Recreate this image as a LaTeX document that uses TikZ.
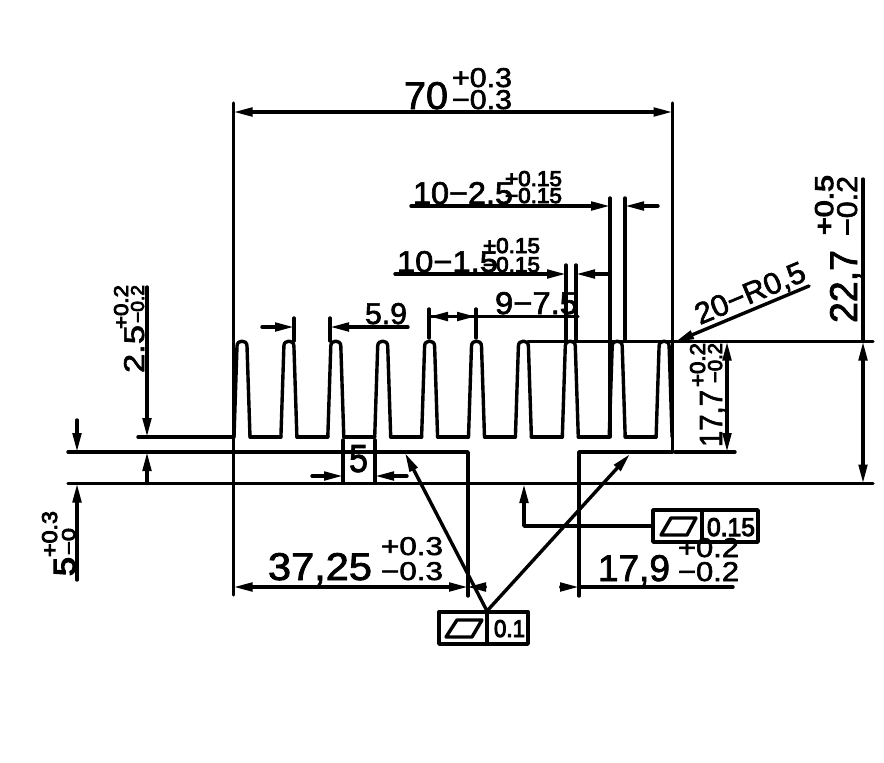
\documentclass[tikz,border=0pt]{standalone}
\usepackage{fontspec}
\usepackage{graphicx}
\setmainfont{Liberation Sans}
\newfontfamily\cadreg{Liberation Sans}[FakeBold=2]
\newfontfamily\cadbold{Liberation Sans}[FakeBold=4]
\usetikzlibrary{arrows.meta}
\tikzset{
  cad/.style={line width=3.4pt,line cap=round,line join=round},
  tip/.style={-{Triangle[length=19pt,width=8.5pt]}},
  lbl/.style={inner sep=0pt,outer sep=0pt,anchor=base west,text=black}
}
% \lbl{rotation}{name}{position}{width}{height}{text}
\newcommand\lbl[6]{\node[lbl,rotate=#1] (#2) at (#3) {\resizebox{#4pt}{#5pt}{\fontsize{30pt}{30pt}\selectfont\cadreg #6}};}
\newcommand\lbb[6]{\node[lbl,rotate=#1] (#2) at (#3) {\resizebox{#4pt}{#5pt}{\fontsize{30pt}{30pt}\selectfont\cadbold #6}};}
\begin{document}
\begin{tikzpicture}[x=1pt,y=-1pt]
\useasboundingbox (0,0) rectangle (884,763);
\begin{scope}[cad]
% fins
\foreach \i in {0,...,9}{
  \pgfmathsetmacro\c{242+46.9*\i}
  \draw (\c-8,437) -- (\c-5,346) .. controls (\c-5,339.5) and (\c+5,339.5) .. (\c+5,346) -- (\c+8,437);
}
\foreach \i in {0,...,8}{
  \pgfmathsetmacro\c{242+46.9*\i}
  \draw (\c+8,437) -- (\c+38.9,437);
}
\draw (138,437) -- (234,437);
% body
\draw (68,452) -- (468,452) -- (468,596);
\draw (579,596) -- (579,452) -- (672.5,452);
\draw (68,483.5) -- (873,483.5);
\draw (528,341.5) -- (873,341.5);
\draw (675,452) -- (735,452);
% extension lines
\draw (233.5,103) -- (233.5,595);
\draw (672.5,103) -- (672.5,452);
\draw (610,198) -- (610,437);
\draw (625,198) -- (625,341);
\draw (566,265) -- (566,341);
\draw (576,265) -- (576,341);
\draw (429,309) -- (429,338);
\draw (476,309) -- (476,338);
\draw (294,318) -- (294,341);
\draw (330,318) -- (330,341);
\draw (343,440) -- (343,483);
\draw (375,440) -- (375,483);
% dimension lines
\draw[tip] (450,112) -- (233.5,112);
\draw[tip] (450,112) -- (672.5,112);
\draw[tip] (411,206) -- (610,206);
\draw[tip] (658,206) -- (625,206);
\draw[tip] (395,274) -- (566,274);
\draw[tip] (609,274) -- (576,274);
\draw[tip] (578,316.5) -- (429,316.5);
\draw[tip] (429,316.5) -- (476,316.5);
\draw[tip] (262,327) -- (294,327);
\draw[tip] (408,327) -- (330,327);
\draw[tip] (312,476) -- (343,476);
\draw[tip] (407,476) -- (375,476);
\draw (863,179) -- (863,341.5);
\draw[tip] (863,400) -- (863,341.5);
\draw[tip] (863,400) -- (863,483.5);
\draw[tip] (727,400) -- (727,341.5);
\draw[tip] (727,400) -- (727,452);
\draw[tip] (147,287) -- (147,437);
\draw[tip] (147,483.5) -- (147,452);
\draw[tip] (77,420) -- (77,452);
\draw[tip] (77,580) -- (77,483.5);
\draw[tip] (350,587) -- (233.5,587);
\draw[tip] (350,587) -- (468,587);
\draw[tip] (485,587) -- (467,587);
\draw[tip] (562,587) -- (579,587);
\draw (579,587) -- (733,587);
% leaders
\draw[tip] (809,286) -- (675,342);
\coordinate (hub) at (487,611);
\draw[tip] (hub) -- (405,453);
\draw[tip] (hub) -- (630,454);
% tolerance frames
\draw (439,612) rectangle (528,644);
\draw (487,612) -- (487,644);
\draw (446,637) -- (472,637) -- (482,620) -- (457,620) -- cycle;
\draw (653,510) rectangle (758,542);
\draw (702,510) -- (702,542);
\draw (661,535) -- (687,535) -- (696,518) -- (671,518) -- cycle;
\draw[tip] (653,526) -- (524,526) -- (524,484);
\end{scope}
% texts
\lbl{0}{a1}{404,109}{44}{27}{70}
\lbl{0}{a2}{452,87}{60}{19}{+0.3}
\lbl{0}{a3}{452,109}{60}{19}{−0.3}
\lbl{0}{b1}{413,204}{100}{22}{10−2.5}
\lbb{0}{b2}{505,186}{57}{15}{+0.15}
\lbb{0}{b3}{505,203}{57}{15}{−0.15}
\lbl{0}{c1}{397,272}{101}{21}{10−1.5}
\lbb{0}{c2}{483,253}{57}{15}{+0.15}
\lbb{0}{c3}{483,272}{57}{15}{−0.15}
\lbl{0}{d1}{495,314}{83}{22}{9−7.5}
\lbl{0}{e1}{365,324}{42}{21}{5.9}
\lbl{0}{f1}{349,472}{19}{27}{5}
\lbl{22.7}{g1}{700,325}{117}{21}{20−R0,5}
\lbl{90}{h1}{857,323}{73}{27}{22,7}
\lbb{90}{h2}{833,235}{60}{18}{+0.5}
\lbl{90}{h3}{857,236}{60}{20}{−0.2}
\lbl{90}{i1}{722,447}{57}{22}{17,7}
\lbb{90}{i2}{705,387}{44}{15}{+0.2}
\lbb{90}{i3}{722,383}{40}{14}{−0.2}
\lbl{90}{j1}{144,373}{48}{20}{2.5}
\lbb{90}{j2}{128,329}{44}{14}{+0.2}
\lbb{90}{j3}{144,323}{38}{13}{−0.2}
\lbb{90}{k1}{75,576}{19}{21}{5}
\lbb{90}{k2}{57,557}{46}{15}{+0.3}
\lbb{90}{k3}{75,555}{27}{13}{−0}
\lbl{0}{m1}{268,580}{104}{27}{37,25}
\lbl{0}{m2}{381,555}{62}{18}{+0.3}
\lbl{0}{m3}{381,580}{62}{18}{−0.3}
\lbl{0}{n1}{598,581}{72}{26}{17,9}
\lbl{0}{n2}{678,557}{61}{19}{+0.2}
\lbl{0}{n3}{678,581}{61}{19}{−0.2}
\lbb{0}{p1}{494,637}{31}{17}{0.1}
\lbb{0}{q1}{707,536}{48}{18}{0.15}
\end{tikzpicture}
\end{document}
